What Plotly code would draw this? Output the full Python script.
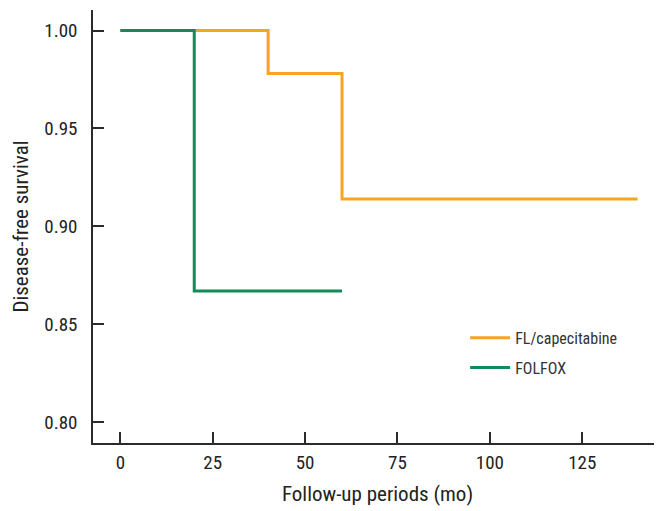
import plotly.graph_objects as go

series_names = ["FL/capecitabine", "FOLFOX"]
fl_months = [0, 40, 60, 140]
fl_survival = [1.0, 0.978, 0.914, 0.914]
folfox_months = [0, 20, 60]
folfox_survival = [1.0, 0.867, 0.867]
x_ticks = [0, 25, 50, 75, 100, 125]
y_ticks = [0.80, 0.85, 0.90, 0.95, 1.00]
y_tick_labels = ["0.80", "0.85", "0.90", "0.95", "1.00"]

FONT = "Liberation Sans Narrow, Roboto Condensed, Arial Narrow, Roboto, sans-serif"
ORANGE = "#F7A521"
GREEN = "#128A5A"
AXIS = "#2b2b2b"

fig = go.Figure()
fig.add_trace(go.Scatter(x=fl_months, y=fl_survival, mode="lines", line_shape="hv",
                         name=series_names[0], legendgroup="a",
                         line=dict(color=ORANGE, width=3)))
fig.add_trace(go.Scatter(x=folfox_months, y=folfox_survival, mode="lines", line_shape="hv",
                         name=series_names[1], legendgroup="b",
                         line=dict(color=GREEN, width=3)))

fig.update_layout(
    width=654, height=503,
    margin=dict(l=85, r=0, t=2, b=68),
    plot_bgcolor="white", paper_bgcolor="white",
    font=dict(family=FONT, color="#222", size=18),
    showlegend=True,
    legend=dict(x=0.654, y=0.282, xanchor="left", yanchor="top",
                bgcolor="rgba(0,0,0,0)", font=dict(size=16, family=FONT, color="#333"),
                traceorder="grouped", tracegroupgap=6, itemwidth=40),
)
fig.update_xaxes(
    range=[-7.4, 146.6], tickvals=x_ticks, showgrid=False, zeroline=False,
    showline=True, linecolor=AXIS, linewidth=1.5, automargin=False,
    ticks="inside", ticklen=11, tickwidth=1.5, tickcolor=AXIS,
    ticklabelstandoff=1,
    tickfont=dict(size=19, family=FONT),
    title=dict(text="Follow-up periods (mo)", font=dict(size=21, family=FONT), standoff=14),
)
fig.update_yaxes(
    range=[0.7893, 1.0105], tickvals=y_ticks, ticktext=y_tick_labels, showgrid=False, zeroline=False,
    showline=True, linecolor=AXIS, linewidth=1.5, automargin=False,
    ticks="inside", ticklen=11, tickwidth=1.5, tickcolor=AXIS,
    ticklabelstandoff=10,
    tickfont=dict(size=19, family=FONT),
    title=dict(text="Disease-free survival", font=dict(size=21, family=FONT), standoff=10),
)

fig.write_html("out.html")
